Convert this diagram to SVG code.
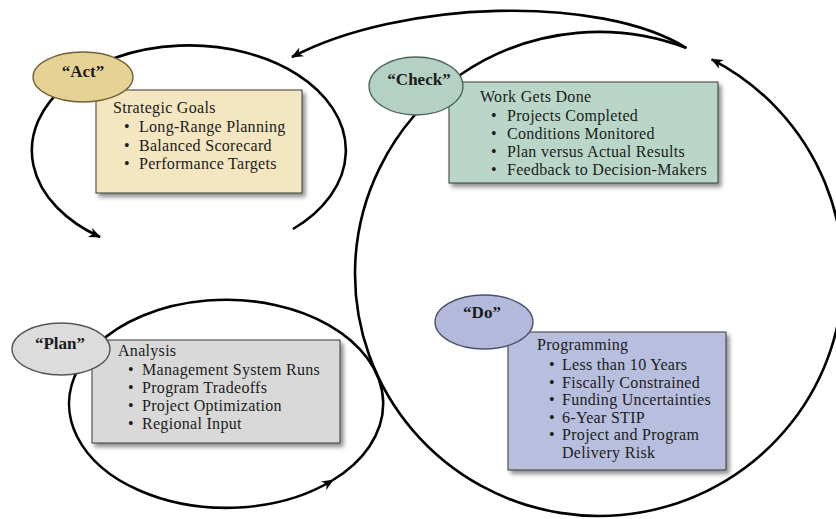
<svg xmlns="http://www.w3.org/2000/svg" width="836" height="519" viewBox="0 0 836 519">
  <defs>
    <marker id="arrow" viewBox="0 0 12 10" markerWidth="13" markerHeight="10" refX="11" refY="5" orient="auto" markerUnits="userSpaceOnUse">
      <path d="M0,0 L12,5 L0,10 L3.5,5 Z" fill="#000"/>
    </marker>
    <filter id="shadow" x="-10%" y="-10%" width="125%" height="130%">
      <feDropShadow dx="3" dy="3.5" stdDeviation="2.2" flood-color="#000" flood-opacity="0.45"/>
    </filter>
    <style>
      .flow { fill: none; stroke: #000; stroke-width: 2.6; }
      .box { stroke: #3a3a3a; stroke-width: 1; filter: url(#shadow); }
      .oval { stroke-width: 1.3; }
      .label { font-family: "Liberation Serif", "Times New Roman", serif; font-weight: bold; font-size: 17px; fill: #1b1b1b; text-anchor: middle; }
      .body { font-family: "Liberation Serif", "Times New Roman", serif; font-size: 16px; fill: #1b1b1b; letter-spacing: 0.3px; }
    </style>
  </defs>

  <rect width="836" height="519" fill="#fff"/>

  <!-- connectors: the four cycle loops -->
  <g id="connectors">
    <!-- Act loop -->
    <path class="flow" d="M293,229 A157,105 0 1 0 100,237" marker-end="url(#arrow)"/>
    <!-- Check/Do big loop -->
    <path class="flow" d="M686.4,48 A244,242 0 0 0 355,274 A244,242 0 1 0 711.7,59.3" marker-end="url(#arrow)"/>
    <!-- return arc from Check to Act -->
    <path class="flow" d="M686.4,48 C600,-6 400,0 292,57" marker-end="url(#arrow)"/>
    <!-- Plan loop -->
    <path class="flow" d="M78.5,368.4 A157,104 0 0 0 333,480" marker-end="url(#arrow)"/>
    <path class="flow" d="M333,480 A157,104 0 1 0 97.4,344.3"/>
  </g>

  <!-- Act -->
  <g id="act">
    <rect class="box" x="96" y="90" width="206" height="103" fill="#F3E6C1"/>
    <ellipse class="oval" cx="83" cy="77" rx="50" ry="25" fill="#E7D296" stroke="#6f6136"/>
    <text class="label" x="83" y="77">“Act”</text>
    <text class="body" x="113" y="113">Strategic Goals</text>
    <text class="body" x="124" y="132">•</text>
    <text class="body" x="139" y="132">Long-Range Planning</text>
    <text class="body" x="124" y="150.5">•</text>
    <text class="body" x="139" y="150.5">Balanced Scorecard</text>
    <text class="body" x="124" y="169">•</text>
    <text class="body" x="139" y="169">Performance Targets</text>
  </g>

  <!-- Check -->
  <g id="check">
    <rect class="box" x="449" y="82" width="269" height="101" fill="#B9D6C9"/>
    <ellipse class="oval" cx="416" cy="86" rx="47" ry="29" fill="#B4D2C4" stroke="#4c6358"/>
    <text class="label" x="419" y="85">“Check”</text>
    <text class="body" x="480" y="102">Work Gets Done</text>
    <text class="body" x="491" y="120.5">•</text>
    <text class="body" x="507" y="120.5">Projects Completed</text>
    <text class="body" x="491" y="139">•</text>
    <text class="body" x="507" y="139">Conditions Monitored</text>
    <text class="body" x="491" y="157">•</text>
    <text class="body" x="507" y="157">Plan versus Actual Results</text>
    <text class="body" x="491" y="175">•</text>
    <text class="body" x="507" y="175">Feedback to Decision-Makers</text>
  </g>

  <!-- Plan -->
  <g id="plan">
    <rect class="box" x="92" y="340" width="248" height="103" fill="#D9D9D9"/>
    <ellipse class="oval" cx="61" cy="349" rx="49" ry="26" fill="#DCDCDC" stroke="#555"/>
    <text class="label" x="60" y="349">“Plan”</text>
    <text class="body" x="118" y="356">Analysis</text>
    <text class="body" x="128" y="375">•</text>
    <text class="body" x="142" y="375">Management System Runs</text>
    <text class="body" x="128" y="393">•</text>
    <text class="body" x="142" y="393">Program Tradeoffs</text>
    <text class="body" x="128" y="411">•</text>
    <text class="body" x="142" y="411">Project Optimization</text>
    <text class="body" x="128" y="428.5">•</text>
    <text class="body" x="142" y="428.5">Regional Input</text>
  </g>

  <!-- Do -->
  <g id="do">
    <rect class="box" x="508" y="332" width="218" height="138" fill="#B8BEDD"/>
    <ellipse class="oval" cx="484" cy="322" rx="49" ry="27" fill="#B2B9DA" stroke="#4a506e"/>
    <text class="label" x="482" y="318">“Do”</text>
    <text class="body" x="537" y="350">Programming</text>
    <text class="body" x="549" y="370">•</text>
    <text class="body" x="562" y="370">Less than 10 Years</text>
    <text class="body" x="549" y="387.5">•</text>
    <text class="body" x="562" y="387.5">Fiscally Constrained</text>
    <text class="body" x="549" y="405">•</text>
    <text class="body" x="562" y="405">Funding Uncertainties</text>
    <text class="body" x="549" y="422.5">•</text>
    <text class="body" x="562" y="422.5">6-Year STIP</text>
    <text class="body" x="549" y="440">•</text>
    <text class="body" x="562" y="440">Project and Program</text>
    <text class="body" x="562" y="458">Delivery Risk</text>
  </g>
</svg>
